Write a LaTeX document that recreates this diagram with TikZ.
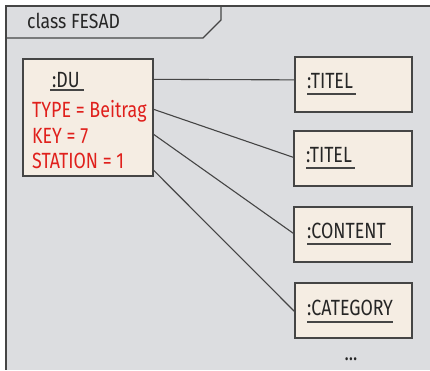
\documentclass[tikz,border=0pt]{standalone}
\usepackage{fontspec}
\setmainfont[FakeStretch=0.81]{Fira Sans}
\newfontfamily\titlefont[FakeStretch=0.86]{Fira Sans}
\usetikzlibrary{calc}
\definecolor{bgray}{HTML}{DCDDE0}
\definecolor{objfill}{HTML}{F5EDE3}
\definecolor{edge}{HTML}{454545}
\definecolor{attr}{HTML}{E0201C}
\tikzset{
  frame/.style={draw=edge, line width=1.3pt},
  objbox/.style={draw=edge, fill=objfill, line width=1.3pt, inner sep=0pt},
  lbl/.style={anchor=base west, inner sep=0pt, font=\fontsize{22}{26}\selectfont, text=black!85},
  attrlbl/.style={anchor=base west, inner sep=0pt, font=\fontsize{22}{26}\selectfont, text=attr},
  uline/.style={draw=edge, line width=1.2pt},
  link/.style={draw=edge, line width=1.1pt}
}
\begin{document}
\begin{tikzpicture}[x=1pt,y=-1pt]
\useasboundingbox (0,0) rectangle (430,370);
\fill[bgray] (6,6) rectangle (430,370);
\draw[frame] (430,6) -- (6,6) -- (6,370);
\draw[frame] (6,38) -- (203,38) -- (221,20) -- (221,6);
\node[lbl, font=\titlefont\fontsize{20.5}{24}\selectfont] (title) at (27,28) {class FESAD};

% object boxes
\node[objbox, minimum width=130pt, minimum height=117pt] (du) at (88,117.5) {};
\node[objbox, minimum width=117pt, minimum height=55pt] (t1) at (353.5,84.5) {};
\node[objbox, minimum width=118pt, minimum height=55pt] (t2) at (353,158.5) {};
\node[objbox, minimum width=118pt, minimum height=55pt] (t3) at (353,234.5) {};
\node[objbox, minimum width=117pt, minimum height=55pt] (t4) at (353.5,310.5) {};

% DU labels
\node[lbl] (dun) at (52,87) {:DU};
\draw[uline] ($(dun.base west)+(-2,3)$) -- ($(dun.base east)+(4,3)$);
\node[attrlbl] (a1) at (32,117) {TYPE = Beitrag};
\node[attrlbl] (a2) at (32,143) {KEY = 7};
\node[attrlbl] (a3) at (32,168) {STATION = 1};

% right labels
\node[lbl] (n1) at (307,88) {:TITEL};
\draw[uline] ($(n1.base west)+(0,6)$) -- ($(n1.base east)+(3,6)$);
\node[lbl] (n2) at (306,162) {:TITEL};
\draw[uline] ($(n2.base west)+(0,6)$) -- ($(n2.base east)+(3,6)$);
\node[lbl] (n3) at (307,238) {:CONTENT};
\draw[uline] ($(n3.base west)+(0,6)$) -- ($(n3.base east)+(5,6)$);
\node[lbl] (n4) at (307,315) {:CATEGORY};
\draw[uline] ($(n4.base west)+(0,7)$) -- ($(n4.base east)+(0,7)$);
\node[lbl, anchor=base] (dots) at (351,360) {...};

% connectors
\draw[link] ($(du.north east)+(0,21)$) -- ($(t1.north west)+(0,23.5)$);
\draw[link] ($(du.north east)+(0,51)$) -- ($(t2.north west)+(0,27)$);
\draw[link] ($(du.north east)+(0,76)$) -- ($(t3.north west)+(0,27)$);
\draw[link] ($(du.north east)+(0,112)$) -- ($(t4.north west)+(0,29)$);
\end{tikzpicture}
\end{document}
